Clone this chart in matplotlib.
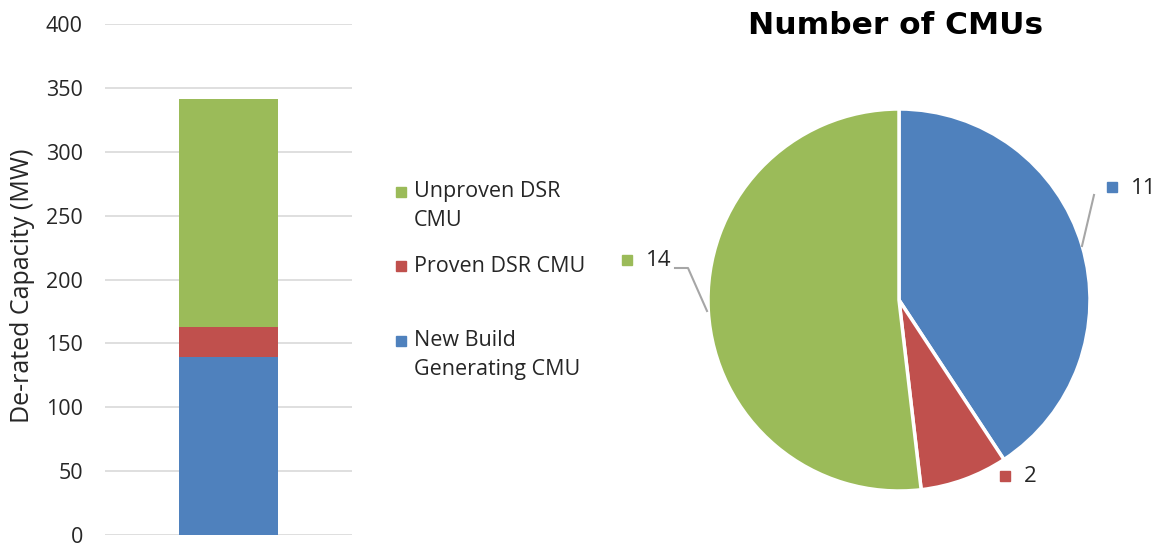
import matplotlib
matplotlib.use("Agg")
import matplotlib.pyplot as plt
from matplotlib.patches import Rectangle

plt.rcParams['font.family'] = ['Open Sans', 'DejaVu Sans']

# ---- data ----
categories = ["New Build\nGenerating CMU", "Proven DSR CMU", "Unproven DSR\nCMU"]
capacity_mw = [139, 24, 178]
cmu_counts = [11, 2, 14]
colors = ["#4F81BD", "#C0504D", "#9BBB59"]
y_ticks = [0, 50, 100, 150, 200, 250, 300, 350, 400]
y_label = "De-rated Capacity (MW)"
pie_title = "Number of CMUs"

W, H = 1161, 545
fig = plt.figure(figsize=(W / 100, H / 100), dpi=100)
TXT = "#262626"

def fx(px):
    return px / W

def fy(py):
    return 1 - py / H

# ---- stacked bar ----
ax = fig.add_axes([fx(105), fy(535), fx(352) - fx(105), fy(24) - fy(535)])
bottom = 0
for val, col in zip(capacity_mw, colors):
    ax.bar(0, val, width=0.4, bottom=bottom, color=col, zorder=3)
    bottom += val
ax.set_xlim(-0.5, 0.5)
ax.set_ylim(0, 400)
ax.set_yticks(y_ticks)
ax.set_xticks([])
ax.yaxis.grid(True, color="#D9D9D9", linewidth=1.2, zorder=0)
for s in ax.spines.values():
    s.set_visible(False)
ax.tick_params(axis='y', length=0, labelsize=15.5, pad=16, labelcolor=TXT)
fig.text(fx(23), fy(286), y_label, rotation=90, ha='center', va='center',
         fontsize=18, color=TXT)

# ---- legend (manual, Excel-like spacing) ----
leg_rows = [(2, 192), (1, 266), (0, 341)]
line_gap = 28
for idx, py in leg_rows:
    fig.patches.append(Rectangle((fx(396), fy(py + 5)), fx(10), fy(py - 5) - fy(py + 5),
                                 transform=fig.transFigure, color=colors[idx]))
    for k, line in enumerate(categories[idx].split("\n")):
        fig.text(fx(414), fy(py + k * line_gap), line, ha='left', va='center',
                 fontsize=15.5, color=TXT)

# ---- pie ----
cx, cy, r = 899, 300, 191
left_px, right_px, top_px, bot_px = 600, 1161, 60, 545
pax = fig.add_axes([fx(left_px), fy(bot_px), fx(right_px) - fx(left_px), fy(top_px) - fy(bot_px)])
pax.pie(cmu_counts, colors=colors, startangle=90, counterclock=False, radius=1,
        wedgeprops=dict(edgecolor='white', linewidth=2.5))
pax.set_aspect('auto')
pax.set_xlim((left_px - cx) / r, (right_px - cx) / r)
pax.set_ylim((cy - bot_px) / r, (cy - top_px) / r)
pax.axis('off')

def d(px, py):
    return ((px - cx) / r, (cy - py) / r)

# label positions (square marker, text)
label_pos = [((1112, 187), (1131, 188)), ((1005, 476), (1024, 477)), ((627, 260), (646, 261))]
for val, col, (sq, tx) in zip(cmu_counts, colors, label_pos):
    sx, sy = d(*sq)
    pax.plot(sx, sy, marker='s', markersize=6.5, color=col, linestyle='none')
    tx_, ty_ = d(*tx)
    pax.text(tx_, ty_, str(val), ha='left', va='center', fontsize=16, color=TXT)

# leader lines
for pts in ([(1094, 195), (1082, 246)], [(675, 268), (688, 268), (707, 311)]):
    xs, ys = zip(*[d(*p) for p in pts])
    pax.plot(xs, ys, color="#A6A6A6", linewidth=1.5)

fig.text(fx(896), fy(25), pie_title, ha='center', va='center', fontsize=22.5,
         fontweight='bold', family='DejaVu Sans', color="black")

fig.savefig("out.png", dpi=100)
